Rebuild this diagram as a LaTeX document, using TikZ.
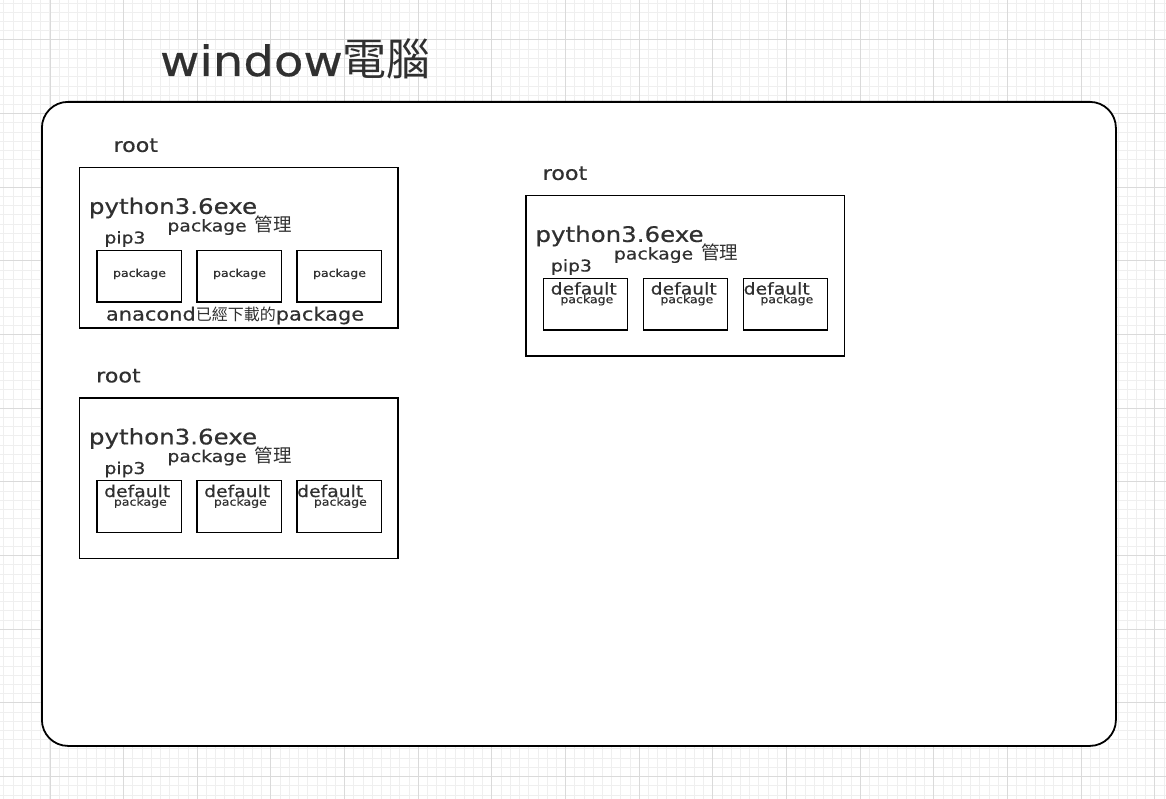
\documentclass[tikz,border=0pt]{standalone}
\usepackage{fontspec}
\setmainfont{DejaVu Sans}[FakeStretch=1.15, FakeBold=0.5]
\newfontfamily\cjk{Noto Sans CJK TC}
\definecolor{txtc}{HTML}{303030}
\definecolor{gridminor}{HTML}{EFEFEF}
\definecolor{gridmajor}{HTML}{DADADA}
\newcommand\fs[1]{\fontsize{#1}{#1}\selectfont}
\tikzset{
  txt/.style={inner sep=0pt, outer sep=0pt, anchor=base west, text=txtc},
  frame/.style={draw=black, line width=1.4, fill=white, inner sep=0pt, outer sep=0pt,
    minimum width=318.5, minimum height=160.5, anchor=north west},
  pkgbox/.style={draw=black, line width=1.3, inner sep=0pt, outer sep=0pt,
    minimum width=84.3, minimum height=51.7, anchor=north west},
  gminor/.style={draw=gridminor, line width=1},
  gmajor/.style={draw=gridmajor, line width=1},
}
% #1 name, #2 X, #3 Y, #4 root dx, #5 kind (1 = package, 0 = default)
\newcommand\pybox[5]{%
  \node[frame] (#1) at (#2,#3) {};
  \node[txt, font=\fs{19.3}] (#1root) at (#2+#4,#3-15.6) {root};
  \node[txt, font=\fs{21.3}] (#1py) at (#2+9.5,#3+46.4) {python3.6exe};
  \node[txt, font=\fs{16.3}] (#1mgr) at (#2+88,#3+64) {package\hspace{8pt}{\cjk\fs{18.5}管理}};
  \node[txt, font=\fs{16.3}] (#1pip) at (#2+25,#3+76) {pip3};
  \foreach \k/\dx/\dd in {a/17.4/7.3, b/117.4/7.3, c/217.4/0.3} {
    \node[pkgbox] (#1\k) at (#2+\dx,#3+82.7) {};
    \ifnum#5=1
      \node[txt, anchor=base, font=\fs{10.9}] (#1\k-t) at (#2+\dx+42.6,#3+109.4) {package};
    \else
      \node[txt, font=\fs{16.3}] (#1\k-d) at (#2+\dx+\dd,#3+99) {default};
      \node[txt, font=\fs{10.9}] (#1\k-p) at (#2+\dx+17,#3+107.7) {package};
    \fi
  }
}
\begin{document}
\begin{tikzpicture}[x=1pt,y=-1pt]
\useasboundingbox (0,0) rectangle (1166,799);
\fill[white] (0,0) rectangle (1166,799);
% grid
\foreach \i in {0,...,126} \draw[gminor] ({3.96+\i*9.2075},0) -- ({3.96+\i*9.2075},799);
\foreach \i in {0,...,86} \draw[gminor] (0,{3.17+\i*9.2075}) -- (1166,{3.17+\i*9.2075});
\foreach \i in {0,...,15} \draw[gmajor] ({50+\i*73.66},0) -- ({50+\i*73.66},799);
\foreach \i in {0,...,10} \draw[gmajor] (0,{40+\i*73.66}) -- (1166,{40+\i*73.66});
% title
\node[txt, font=\fs{41.9}] (title) at (160,76) {window{\cjk\fs{44}電腦}};
% computer frame
\node[draw=black, line width=1.8, fill=white, rounded corners=26, inner sep=0pt,
  minimum width=1074, minimum height=644, anchor=north west] (pc) at (41,101) {};
% python boxes
\pybox{b1}{79.5}{167.5}{34}{1}
\node[txt, font=\fs{18.2}] (b1ana) at (79.5+26.5,167.5+153) {anacond{\cjk\fs{16}已經下載的}package};
\pybox{b2}{526}{195.5}{16.7}{0}
\pybox{b3}{79.5}{398}{16.7}{0}
\end{tikzpicture}
\end{document}
